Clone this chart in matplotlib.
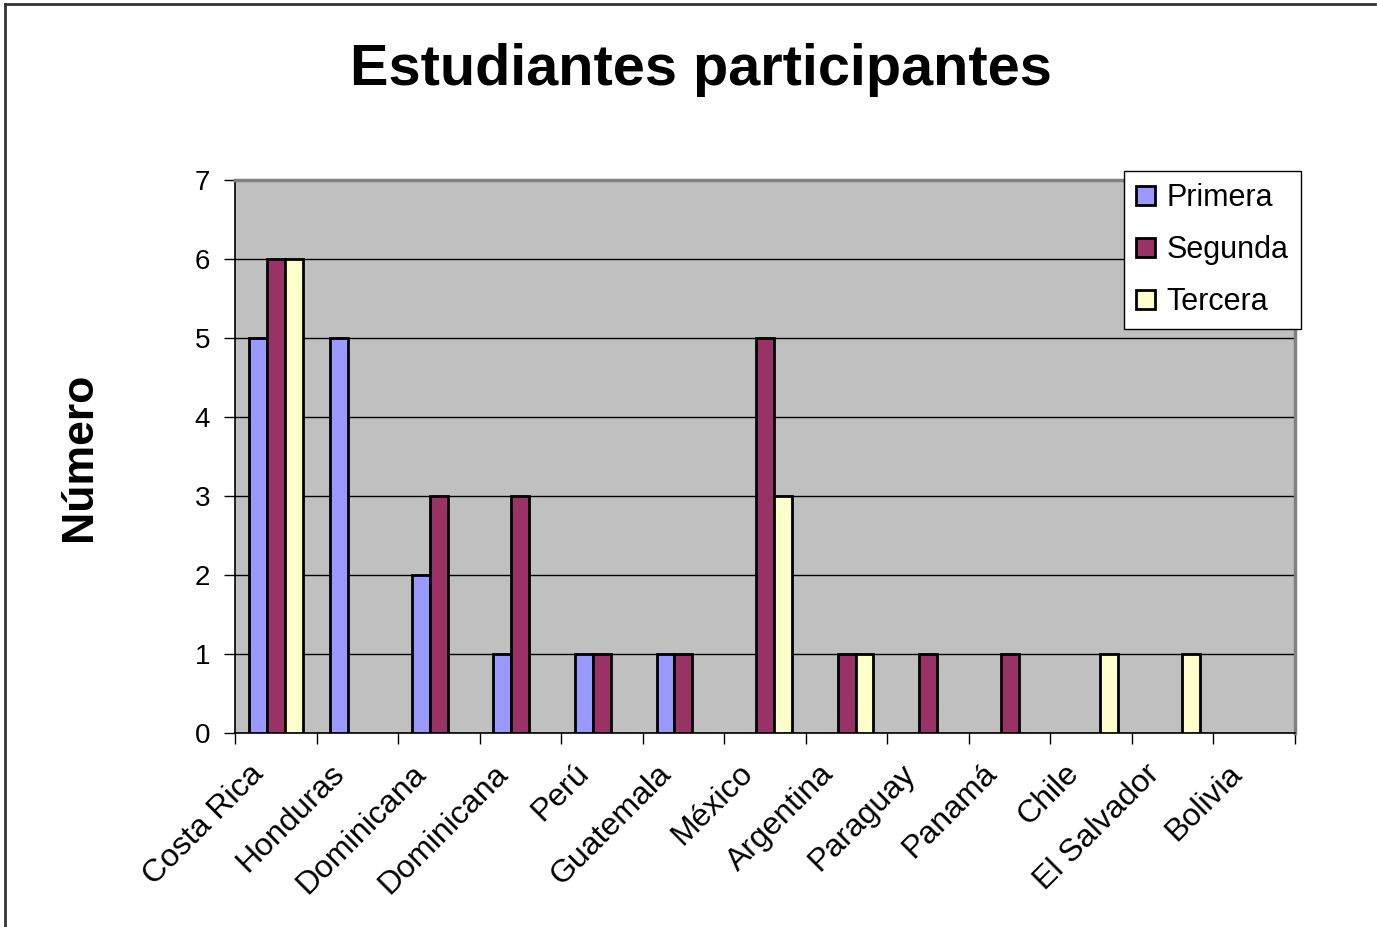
import matplotlib.pyplot as plt
import matplotlib.transforms as mtransforms
import numpy as np

paises = ["Costa Rica", "Honduras", "Dominicana", "Dominicana", "Perú", "Guatemala",
          "México", "Argentina", "Paraguay", "Panamá", "Chile", "El Salvador", "Bolivia"]
primera = [5, 5, 2, 1, 1, 1, 0, 0, 0, 0, 0, 0, 0]
segunda = [6, 0, 3, 3, 1, 1, 5, 1, 1, 1, 0, 0, 0]
tercera = [6, 0, 0, 0, 0, 0, 3, 1, 0, 0, 1, 1, 0]
series = ["Primera", "Segunda", "Tercera"]
colores = ["#9999FF", "#993366", "#FFFFCC"]

plt.rcParams['font.family'] = ['Liberation Sans', 'DejaVu Sans']

fig = plt.figure(figsize=(13.77, 9.27), dpi=100)
ax = fig.add_axes([235/1377, 1-733/927, (1295-235)/1377, (733-180)/927])
ax.set_facecolor("#C0C0C0")

x = np.arange(len(paises)) + 0.5
w = 0.22
for k, (vals, nombre, c) in enumerate(zip([primera, segunda, tercera], series, colores)):
    v = np.array(vals, dtype=float)
    mask = v > 0
    ax.bar(x[mask] + (k-1)*w, v[mask], width=w, color=c, edgecolor="black",
           linewidth=2, label=nombre, zorder=3)

ax.set_xlim(0, len(paises))
ax.set_ylim(0, 7)
ax.set_yticks(range(8))
ax.yaxis.grid(True, color="black", linewidth=1, zorder=1)
ax.set_axisbelow(True)
ax.tick_params(axis='y', labelsize=20, length=8, width=1, pad=10)
ax.set_xticks(range(len(paises)+1))
ax.set_xticklabels([])
ax.tick_params(axis='x', length=8, width=1)
ax.set_xticks(x, minor=True)
ax.set_xticklabels(paises, minor=True, rotation=45, ha='right', va='center',
                   rotation_mode='anchor', fontsize=23)
ax.tick_params(axis='x', which='minor', length=0, pad=26)
off = mtransforms.ScaledTranslation(-0.17, 0, fig.dpi_scale_trans)
for lab in ax.get_xticklabels(minor=True):
    lab.set_transform(lab.get_transform() + off)

for s in ["top", "right"]:
    ax.spines[s].set_color("#808080")
    ax.spines[s].set_linewidth(2.5)
ax.spines["left"].set_linewidth(1.2)
ax.spines["bottom"].set_linewidth(1.2)

ax.set_ylabel("Número", fontsize=32, fontweight='bold', labelpad=68)
fig.text(0.509, 1-70/927, "Estudiantes participantes", fontsize=41.5, fontweight='bold',
         ha='center', va='center')

leg = ax.legend(loc='upper right', bbox_to_anchor=(1301/1377, 1-171/927),
                bbox_transform=fig.transFigure, borderaxespad=0, fontsize=22,
                frameon=True, fancybox=False, edgecolor="black", framealpha=1,
                handlelength=0.6, handleheight=0.6, handletextpad=0.4,
                labelspacing=0.72, borderpad=0.4)
leg.get_frame().set_linewidth(1)

# marco exterior
fig.add_artist(plt.Line2D([5/1377, 5/1377], [0, 1-4/927], color="#333333",
                          linewidth=2, transform=fig.transFigure))
fig.add_artist(plt.Line2D([5/1377, 1375/1377], [1-4/927, 1-4/927], color="#333333",
                          linewidth=2, transform=fig.transFigure))

fig.savefig("out.png", dpi=100)
